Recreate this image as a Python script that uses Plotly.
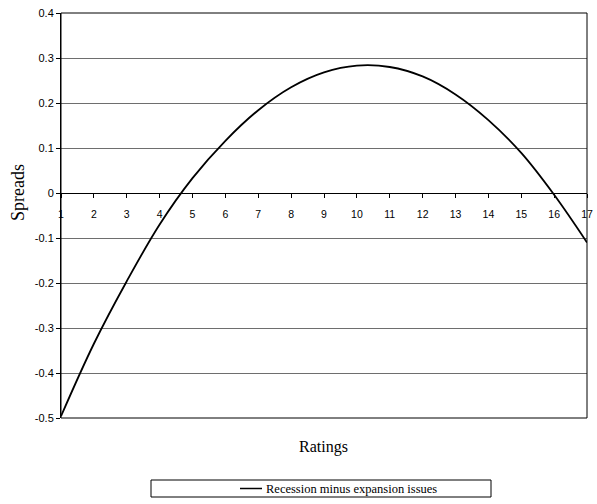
import plotly.graph_objects as go

# Ratings (x) and spread difference, recession minus expansion issues (y)
ratings = list(range(1, 18))
spreads = [-0.496, -0.335, -0.196, -0.070, 0.033, 0.116, 0.184, 0.235, 0.268,
           0.283, 0.280, 0.259, 0.219, 0.162, 0.089, -0.004, -0.110]

y_ticks = [0.4, 0.3, 0.2, 0.1, 0.0, -0.1, -0.2, -0.3, -0.4, -0.5]
y_tick_labels = ["0.4", "0.3", "0.2", "0.1", "0", "-0.1", "-0.2", "-0.3", "-0.4", "-0.5"]
x_tick_labels = [str(r) for r in ratings]

series_name = "Recession minus expansion issues"
x_title = "Ratings"
y_title = "Spreads"

W, H = 597, 504
ML, MR, MT, MB = 61, 10, 13, 86
plot_w = W - ML - MR
plot_h = H - MT - MB
y_min, y_max = -0.5, 0.4


def px_x(p):
    return (p - ML) / plot_w


def px_y(p):
    return (H - MB - p) / plot_h


fig = go.Figure()
fig.add_trace(go.Scatter(
    x=ratings, y=spreads, mode="lines", name=series_name,
    line=dict(color="black", width=1.8, shape="spline", smoothing=1.0),
    showlegend=False,
))

zero_pos = (0 - y_min) / (y_max - y_min)

fig.update_layout(
    width=W, height=H,
    margin=dict(l=ML, r=MR, t=MT, b=MB, autoexpand=False),
    paper_bgcolor="white", plot_bgcolor="white",
    font=dict(family="Liberation Sans, Arial, sans-serif", color="black"),
    xaxis=dict(
        range=[1, 17], tickvals=ratings, ticktext=x_tick_labels,
        anchor="free", position=zero_pos,
        showline=True, linecolor="black", linewidth=1,
        ticks="outside", ticklen=4, tickcolor="black", tickwidth=1,
        showgrid=False, zeroline=False,
        tickfont=dict(size=10.5, family="Liberation Sans Narrow, Liberation Sans, Arial"),
        ticklabelstandoff=7,
    ),
    yaxis=dict(
        range=[y_min, y_max], tickvals=y_ticks, ticktext=y_tick_labels,
        showline=True, linecolor="black", linewidth=1,
        ticks="outside", ticklen=4, tickcolor="black",
        showgrid=True, gridcolor="#6e6e6e", gridwidth=1,
        zeroline=False,
        tickfont=dict(size=11),
    ),
    shapes=[
        # plot frame
        dict(type="rect", xref="paper", yref="paper", x0=0, x1=1, y0=0, y1=1,
             line=dict(color="black", width=1)),
        # legend box
        dict(type="rect", xref="paper", yref="paper",
             x0=px_x(151), x1=px_x(491), y0=px_y(497), y1=px_y(480),
             line=dict(color="black", width=1), fillcolor="white"),
        # legend line sample
        dict(type="line", xref="paper", yref="paper",
             x0=px_x(240), x1=px_x(262), y0=px_y(488.5), y1=px_y(488.5),
             line=dict(color="black", width=1.5)),
    ],
    annotations=[
        dict(text=x_title, xref="paper", yref="paper", x=px_x(323), y=px_y(447),
             showarrow=False, xanchor="center", yanchor="middle",
             font=dict(family="Liberation Serif, Times New Roman, serif", size=16)),
        dict(text=y_title, xref="paper", yref="paper", x=px_x(18), y=px_y(193),
             showarrow=False, xanchor="center", yanchor="middle", textangle=-90,
             font=dict(family="Liberation Serif, Times New Roman, serif", size=18)),
        dict(text=series_name, xref="paper", yref="paper", x=px_x(264), y=px_y(488.5),
             showarrow=False, xanchor="left", yanchor="middle",
             font=dict(family="Liberation Serif, Times New Roman, serif", size=12.5)),
    ],
)

fig.write_html("out.html")
